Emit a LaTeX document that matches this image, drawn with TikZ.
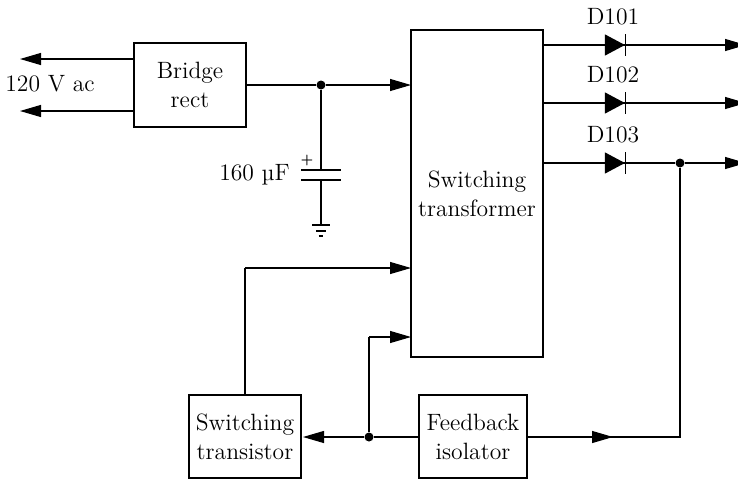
\documentclass[tikz,border=0pt]{standalone}
\usepackage{fontspec}
\usepackage{tikz}
\usetikzlibrary{positioning, arrows.meta}

\begin{document}
\begin{tikzpicture}[
        x=0.5pt, y=-0.5pt,
        font=\fontsize{11.8}{14.5}\selectfont,
        block/.style = {draw, rectangle, line width=1.1pt, outer sep=0pt, inner sep=0pt, align=center, minimum width=56pt, minimum height=41.5pt},
        wire/.style = {line width=0.55pt},
        arrow/.style = {wire, -{Triangle[length=10.5pt, width=6pt]}},
        diode/.style = {wire, -{Triangle[length=10pt, width=10.5pt] Bar[width=11pt, sep=0pt]}},
        dot/.style = {circle, fill=black, inner sep=0pt, minimum size=4.5pt},
        txt/.style = {inner sep=0pt}
      ]
      \useasboundingbox (0,0) rectangle (738,482);

      % ================= BLOCKS =================
      \node[block, minimum height=42pt] (bridge) at (190,85) {Bridge\\rect};
      \node[block, minimum width=66pt, minimum height=163.5pt] (xfmr) at (477,193.5) {Switching\\transformer};
      \node[block] (transistor) at (245,436.5) {Switching\\transistor};
      \node[block, minimum width=54pt, right=59pt of transistor] (isolator) {Feedback\\isolator};

      % ================= AC INPUT =================
      \coordinate (acup) at (20,59);
      \coordinate (acdown) at (20,111);
      \draw[arrow] (bridge.west |- acup) -- (acup);
      \draw[arrow] (bridge.west |- acdown) -- (acdown);
      \node[txt] (aclabel) at (50,84) {120 V ac};

      % ================= FILTER CAPACITOR =================
      \node[dot] (busdot) at (321,85) {};
      \draw[wire] (bridge.east) -- (busdot);
      \draw[arrow] (busdot) -- (xfmr.west |- busdot);

      \coordinate (captop) at (321,170);
      \coordinate (capbot) at (321,180);
      \coordinate (gnd) at (321,225);
      \draw[wire] (busdot) -- (captop);
      \draw[wire] ([xshift=-10pt]captop) -- ([xshift=10pt]captop);
      \draw[wire] ([xshift=-10pt]capbot) -- ([xshift=10pt]capbot);
      \draw[wire] (capbot) -- (gnd);
      \draw[wire] ([xshift=-4.5pt]gnd) -- ([xshift=4.5pt]gnd);
      \draw[wire] ([xshift=-2.5pt,yshift=-3pt]gnd) -- ([xshift=2.5pt,yshift=-3pt]gnd);
      \draw[wire] ([xshift=-1.2pt,yshift=-5.5pt]gnd) -- ([xshift=1.2pt,yshift=-5.5pt]gnd);
      \node[txt] (caplabel) at (254.5,175) {160 µF};
      \node[txt, font=\fontsize{6}{7}\bfseries\selectfont] (capplus) at (307,160) {+};

      % ================= OUTPUT DIODES =================
      \coordinate (k101) at (626,45);
      \coordinate (k102) at (626,103);
      \coordinate (k103) at (626,163);
      \coordinate (out101) at (746,45);
      \coordinate (out102) at (746,103);
      \coordinate (out103) at (746,163);
      \node[dot] (fbdot) at (680,163) {};

      \draw[diode] (xfmr.east |- k101) -- (k101);
      \draw[diode] (xfmr.east |- k102) -- (k102);
      \draw[diode] (xfmr.east |- k103) -- (k103);
      \draw[arrow] (k101) -- (out101);
      \draw[arrow] (k102) -- (out102);
      \draw[wire] (k103) -- (fbdot);
      \draw[arrow] (fbdot) -- (out103);
      \node[txt] (d101) at (613,17) {D101};
      \node[txt] (d102) at (613,75) {D102};
      \node[txt] (d103) at (613,135) {D103};

      % ================= FEEDBACK =================
      \coordinate (fbhead) at (613,437);
      \coordinate (fbcorner) at (680,437);
      \draw[arrow] (isolator.east |- fbhead) -- (fbhead);
      \draw[wire] (isolator.east |- fbhead) -- (fbcorner) -- (fbdot);

      \node[dot] (drivedot) at (369,437) {};
      \draw[wire] (isolator.west |- drivedot) -- (drivedot);
      \draw[arrow, shorten >=1pt] (drivedot) -- (transistor.east |- drivedot);

      % ================= DRIVE LINES =================
      \coordinate (drivecorner) at (369,337);
      \draw[wire] (drivedot) -- (drivecorner);
      \draw[arrow] (drivecorner) -- (xfmr.west |- drivecorner);

      \coordinate (basecorner) at (245,268);
      \draw[wire] (transistor.north) -- (basecorner);
      \draw[arrow] (basecorner) -- (xfmr.west |- basecorner);

    \end{tikzpicture}
\end{document}
